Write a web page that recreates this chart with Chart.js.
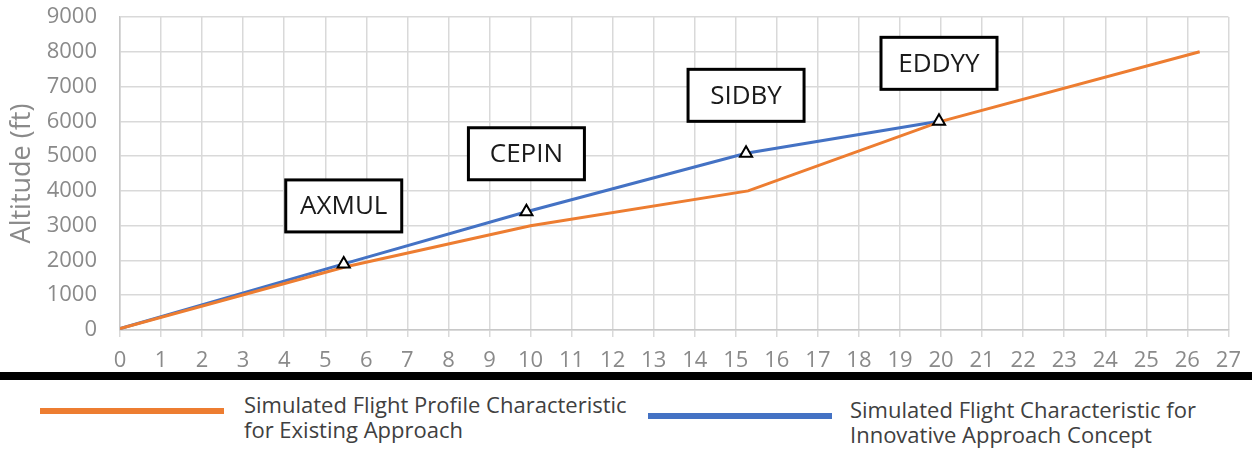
<!DOCTYPE html>
<html>
<head>
<meta charset="utf-8">
<script src="https://cdn.jsdelivr.net/npm/chart.js@4.4.1/dist/chart.umd.min.js"></script>
<style>
  body { margin: 0; background: #fff; font-family: "Open Sans", sans-serif; }
  #page { position: relative; width: 1252px; height: 450px; overflow: hidden; }
  #box { position: absolute; left: 0; top: 0; width: 1252px; height: 372px; }
  #bar { position: absolute; left: 0; top: 372px; width: 1252px; height: 8px; background: #000; }
  .key { position: absolute; height: 6px; width: 184px; }
  .keytext { position: absolute; font-size: 22px; line-height: 25px; color: #404040; white-space: nowrap; }
</style>
</head>
<body>
<div id="page">
  <div id="box"><canvas id="myChart" width="1252" height="372"></canvas></div>
  <div id="bar"></div>
  <div id="legend"></div>
</div>
<script>
// distance along approach (x) vs altitude in ft (y)
const existingDist = [0, 5.5, 10, 15.3, 20, 26.3];
const existingAlt  = [40, 1820, 3000, 4000, 6000, 8000];
const innovDist = [0, 5.45, 9.9, 15.25, 19.95];
const innovAlt  = [40, 1900, 3400, 5080, 6000];

// waypoints
const wpNames = ['AXMUL', 'CEPIN', 'SIDBY', 'EDDYY'];
const wpDist  = [5.45, 9.9, 15.25, 19.95];
const wpAlt   = [1900, 3400, 5080, 6000];

const seriesNames = [
    ['Simulated Flight Profile Characteristic', 'for Existing Approach'],
    ['Simulated Flight Characteristic for', 'Innovative Approach Concept']
];
const seriesColors = ['#ED7D31', '#4472C4'];

function pts(xs, ys) {
    return xs.map((x, i) => ({x: x, y: ys[i]}));
}

// boxed waypoint names above the triangles
const wpLabels = {
    id: 'wpLabels',
    afterDatasetsDraw(chart) {
        const ctx = chart.ctx;
        const xs = chart.scales.x, ys = chart.scales.y;
        ctx.save();
        ctx.font = '26px "Open Sans"';
        ctx.textAlign = 'center';
        ctx.textBaseline = 'middle';
        wpNames.forEach((name, i) => {
            const px = xs.getPixelForValue(wpDist[i]);
            const py = ys.getPixelForValue(wpAlt[i]) - 58;
            ctx.fillStyle = '#fff';
            ctx.fillRect(px - 58, py - 26, 116, 52);
            ctx.lineWidth = 3;
            ctx.strokeStyle = '#000';
            ctx.strokeRect(px - 58, py - 26, 116, 52);
            ctx.fillStyle = '#1a1a1a';
            ctx.fillText(name, px, py + 1);
        });
        ctx.restore();
    }
};

myChart = new Chart(document.getElementById('myChart'), {
    type: 'scatter',
    data: {
        datasets: [
        {
            label: 'Waypoints',
            data: pts(wpDist, wpAlt),
            pointStyle: 'triangle',
            pointRadius: 7,
            borderWidth: 2,
            borderColor: '#000',
            backgroundColor: '#fff',
            order: 0
        },
        {
            label: seriesNames[0].join(' '),
            data: pts(existingDist, existingAlt),
            showLine: true,
            borderWidth: 3,
            pointRadius: 0,
            borderColor: seriesColors[0],
            order: 1
        },
        {
            label: seriesNames[1].join(' '),
            data: pts(innovDist, innovAlt),
            showLine: true,
            borderWidth: 3,
            pointRadius: 0,
            borderColor: seriesColors[1],
            order: 2
        }
        ]
    },
    options: {
        responsive: false,
        animation: false,
        layout: { padding: { top: 0, right: 22, left: 0, bottom: 0 } },
        scales: {
            x: {
                type: 'linear',
                min: 0, max: 27,
                afterFit: (s) => { s.height = 42; },
                ticks: { stepSize: 1, padding: 11, color: '#8a8a8a', font: { family: 'Open Sans', size: 22 } },
                grid: { color: '#d9d9d9', lineWidth: 1.5, tickLength: 7 },
                border: { color: '#c8c8c8', width: 1.5 }
            },
            y: {
                min: 0, max: 9000,
                afterFit: (s) => { s.width = 120; s.paddingTop = 17; },
                ticks: {
                    stepSize: 1000, padding: 23, color: '#8a8a8a',
                    font: { family: 'Open Sans', size: 22 },
                    callback: (v) => String(v)
                },
                grid: { color: '#d9d9d9', lineWidth: 1.5, drawTicks: false },
                border: { color: '#c8c8c8', width: 1.5 },
                title: { display: true, text: 'Altitude (ft)', color: '#8a8a8a', padding: { top: 6 }, font: { family: 'Open Sans', size: 27 } }
            }
        },
        plugins: {
            legend: { display: false },
            tooltip: { enabled: false }
        }
    },
    plugins: [wpLabels]
});

// legend below the black bar
const keyPos = [
    { lineX: 40, lineY: 408, textX: 244, textY: 392 },
    { lineX: 648, lineY: 413, textX: 850, textY: 397 }
];
const legend = document.getElementById('legend');
seriesNames.forEach((lines, i) => {
    const k = document.createElement('div');
    k.className = 'key';
    k.style.left = keyPos[i].lineX + 'px';
    k.style.top = keyPos[i].lineY + 'px';
    k.style.background = seriesColors[i];
    legend.appendChild(k);
    const t = document.createElement('div');
    t.className = 'keytext';
    t.style.left = keyPos[i].textX + 'px';
    t.style.top = keyPos[i].textY + 'px';
    t.innerHTML = lines.join('<br>');
    legend.appendChild(t);
});
</script>
</body>
</html>
